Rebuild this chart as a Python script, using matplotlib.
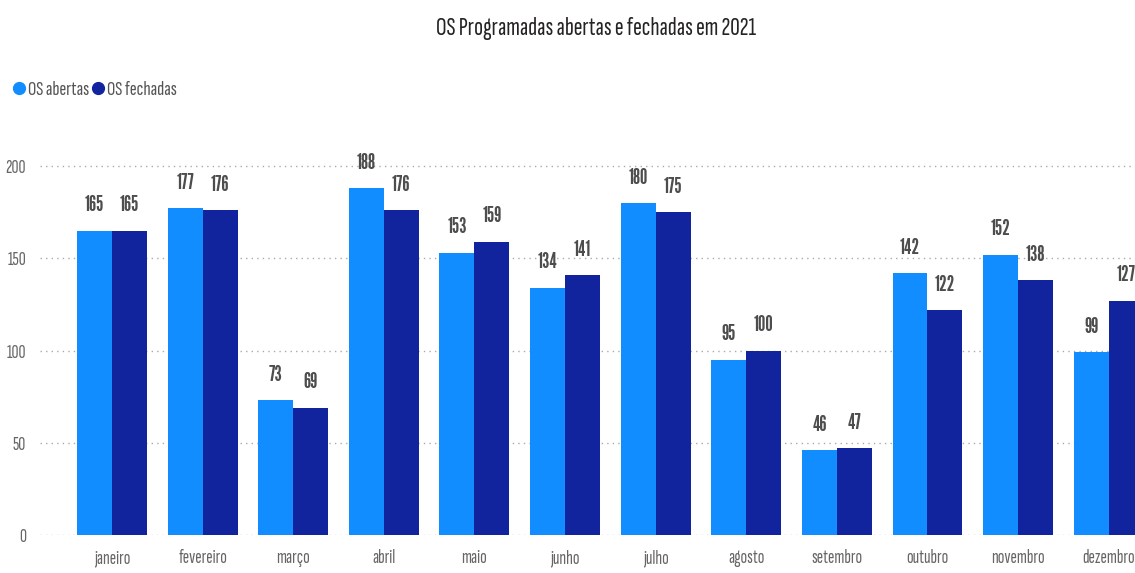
import numpy as np
import matplotlib
matplotlib.use('Agg')
import matplotlib.pyplot as plt
from matplotlib.lines import Line2D

plt.rcParams['font.family'] = ['Sofia Sans Extra Condensed', 'DejaVu Sans']

meses = ['janeiro', 'fevereiro', 'março', 'abril', 'maio', 'junho',
         'julho', 'agosto', 'setembro', 'outubro', 'novembro', 'dezembro']
abertas = [165, 177, 73, 188, 153, 134, 180, 95, 46, 142, 152, 99]
fechadas = [165, 176, 69, 176, 159, 141, 175, 100, 47, 122, 138, 127]

cor_abertas = '#118DFF'
cor_fechadas = '#12239E'

fig = plt.figure(figsize=(11.35, 5.73), dpi=100)
ax = fig.add_axes([0.0352, 0.0663, 0.9648, 0.7068])

x = np.arange(len(meses))
w = 0.386
b1 = ax.bar(x - w / 2, abertas, w, color=cor_abertas, zorder=3)
b2 = ax.bar(x + w / 2, fechadas, w, color=cor_fechadas, zorder=3)

# rótulos de valor acima das barras
for bars, vals in ((b1, abertas), (b2, fechadas)):
    for rect, v in zip(bars, vals):
        ax.annotate(str(v), (rect.get_x() + rect.get_width() / 2, v),
                    xytext=(0, 11), textcoords='offset points',
                    ha='center', va='bottom', fontsize=15,
                    family=['League Gothic', 'DejaVu Sans'],
                    color='#4d4d4d', annotation_clip=False)

ax.set_xlim(-0.795, 11.29)
ax.set_ylim(0, 219.5)
ax.set_yticks([0, 50, 100, 150, 200])
ax.set_xticks(x)
ax.set_xticklabels(meses)
ax.grid(axis='y', linestyle=(0, (1, 3)), color='#AAAAAA', linewidth=1, zorder=0)
ax.tick_params(axis='both', length=0, labelsize=14, colors='#666666')
ax.tick_params(axis='x', pad=10)
ax.tick_params(axis='y', pad=10)
for s in ax.spines.values():
    s.set_visible(False)

fig.text(0.525, 0.951, 'OS Programadas abertas e fechadas em 2021',
         ha='center', va='center', fontsize=19, color='#252423')

handles = [Line2D([], [], marker='o', linestyle='', markersize=8.5, color=cor_abertas),
           Line2D([], [], marker='o', linestyle='', markersize=8.5, color=cor_fechadas)]
fig.legend(handles, ['OS abertas', 'OS fechadas'], loc='center left',
           bbox_to_anchor=(-0.004, 0.843), ncol=2, frameon=False, fontsize=15,
           handletextpad=0.15, columnspacing=0.2, handlelength=0.5,
           labelcolor='#555555')

fig.savefig('out.png', dpi=100)
